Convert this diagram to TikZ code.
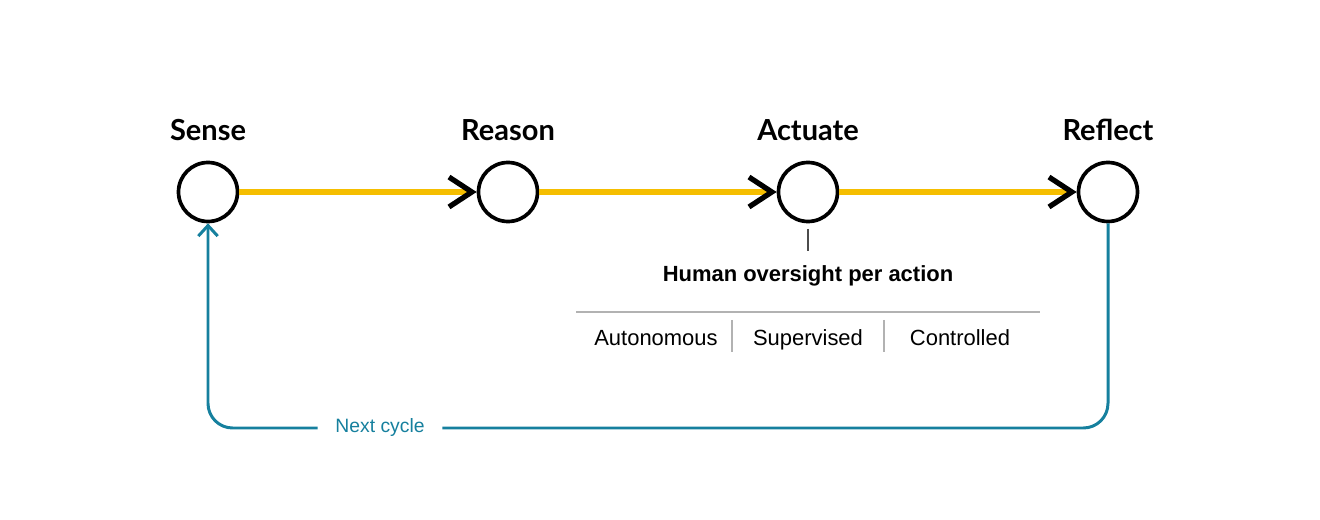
\documentclass[tikz,border=0pt]{standalone}
\usepackage{fontspec}
\setmainfont{Liberation Sans}
\newfontfamily\headfont{Lato}
\usetikzlibrary{arrows.meta,positioning}
\definecolor{flowyellow}{HTML}{F5BE00}
\definecolor{loopblue}{HTML}{16809E}
\begin{document}
\begin{tikzpicture}[x=0.02cm,y=-0.02cm,
  stage/.style={circle, draw=black, line width=2.1pt, minimum size=1.18cm, inner sep=0pt},
  title/.style={font=\headfont\bfseries\fontsize{16.5}{18}\selectfont},
  flow/.style={flowyellow, line width=3.4pt, -{Straight Barb[black,length=13pt,width=17pt,line width=3pt]}},
  mode/.style={font=\fontsize{12.5}{14}\selectfont, anchor=base}]
\useasboundingbox (0,0) rectangle (1320,520);
\node[stage] (sense) at (208,192) {};
\node[stage] (reason) at (508,192) {};
\node[stage] (actuate) at (808,192) {};
\node[stage] (reflect) at (1108,192) {};
\node[title] at (208,130) {Sense};
\node[title] at (508,130) {Reason};
\node[title] at (808,130) {Actuate};
\node[title] at (1108,130) {Reflect};
\draw[flow] (sense) -- (reason);
\draw[flow] (reason) -- (actuate);
\draw[flow] (actuate) -- (reflect);
% oversight scale
\coordinate (tickA) at (808,229);
\coordinate (tickB) at (808,251);
\draw[black!70, line width=1.2pt] (tickA) -- (tickB);
\node[font=\bfseries\fontsize{12.5}{14}\selectfont] (oversight) at (808,276) {Human oversight per action};
\coordinate (scaleL) at (576,312);
\coordinate (scaleR) at (1040,312);
\draw[black!30, line width=0.8pt] (scaleL) -- (scaleR);
\node[mode] (auto) at (656,346) {Autonomous};
\node[mode] (super) at (808,346) {Supervised};
\node[mode] (ctrl) at (960,346) {Controlled};
\foreach \x in {732,884}
  \draw[black!30, line width=0.8pt] (\x,320) -- (\x,352);
% loop back
\node[loopblue, fill=white, font=\fontsize{11}{12}\selectfont, inner xsep=10pt] (next) at (380,428) {Next cycle};
\draw[loopblue, line width=1.7pt, rounded corners=14pt, -{Straight Barb[length=6pt,width=11pt,line width=1.7pt]}]
  (reflect.south) |- (next.east) (next.west) -| (sense.south);
\end{tikzpicture}
\end{document}
